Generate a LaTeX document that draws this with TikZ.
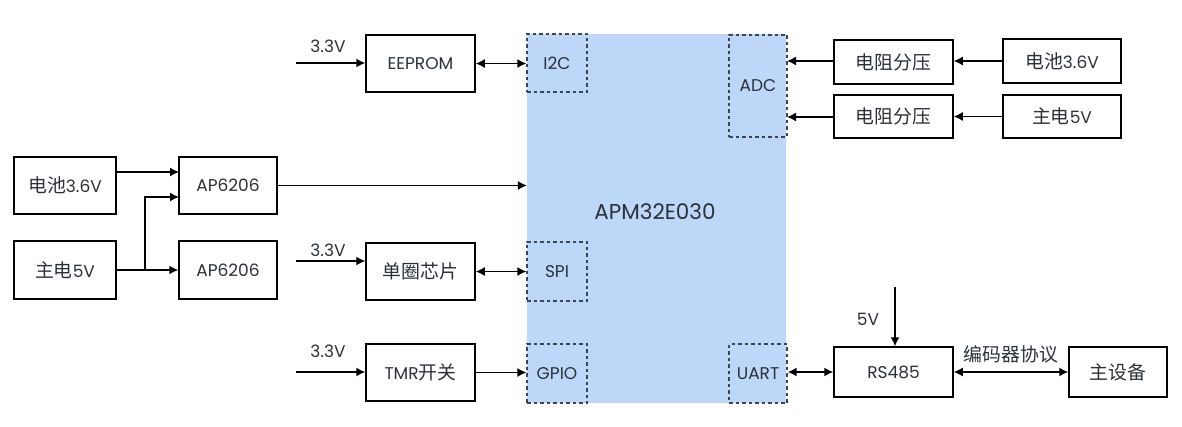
\documentclass[tikz,border=0pt]{standalone}
\usepackage{fontspec}
\setmainfont{Poppins}
\newfontfamily\cjk[Scale=1.11]{Noto Sans CJK SC}
\usetikzlibrary{positioning, arrows.meta}
\definecolor{chipblue}{HTML}{BDD7F9}
\definecolor{txtgray}{HTML}{2B3138}
\definecolor{portgray}{HTML}{3A4652}
\tikzset{
every node/.style={text=txtgray, font=\fontsize{17}{19}\selectfont},
blockbox/.style={draw=black, line width=1.5pt, fill=white, inner sep=0pt, minimum width=#1, minimum height=57pt},
port/.style={draw=portgray, line width=1.3pt, dash pattern=on 3.5pt off 3pt, inner sep=0pt, minimum width=#1},
link/.style={draw=black, line width=1.4pt, -{Latex[length=9pt,width=9pt]}},
duplex/.style={draw=black, line width=1.4pt, {Latex[length=9pt,width=9pt]}-{Latex[length=9pt,width=9pt]}},
}

\begin{document}
\begin{tikzpicture}[x=1pt, y=-1pt]
    \useasboundingbox (0,0) rectangle (1182,427);

    %chip
    \node[fill=chipblue, inner sep=0pt, minimum width=259pt, minimum height=369pt] (chip) at (656.5,218.5) { };
    \node[font=\fontsize{21.5}{24}\selectfont] (chiplabel) at (655,212) {APM32E030};
    \node[port=60pt, minimum height=58pt] (i2c) at (557,63) {I2C};
    \node[port=60pt, minimum height=59pt] (spi) at (557,271.5) {SPI};
    \node[port=60pt, minimum height=59pt] (gpio) at (557,373.5) {GPIO};
    \node[port=58pt, minimum height=102pt] (adc) at (758,86) {ADC};
    \node[port=58pt, minimum height=59pt] (uart) at (758,373.5) {UART};

    %left column
    \node[blockbox=102pt] (batL) at (65,185.5) {\cjk 电池\normalfont 3.6V};
    \node[blockbox=102pt, minimum height=58pt] (mainL) at (65,270) {\cjk 主电\normalfont 5V};
    \node[blockbox=98pt] (ap1) at (228,185.5) {AP6206};
    \node[blockbox=98pt, minimum height=58pt] (ap2) at (228,270) {AP6206};

    %middle column
    \node[blockbox=109pt] (eeprom) at (420.5,63.5) {EEPROM};
    \node[blockbox=109pt] (coil) at (420.5,271.5) {\cjk 单圈芯片};
    \node[blockbox=109pt] (tmr) at (420.5,372.5) {TMR\cjk 开关};

    %right side
    \node[blockbox=119pt, minimum height=44pt] (div1) at (893.5,62) {\cjk 电阻分压};
    \node[blockbox=119pt, minimum height=43pt] (div2) at (893.5,116.5) {\cjk 电阻分压};
    \node[blockbox=118pt, minimum height=44pt] (batR) at (1062,61) {\cjk 电池\normalfont 3.6V};
    \node[blockbox=118pt, minimum height=43pt] (mainR) at (1062,116.5) {\cjk 主电\normalfont 5V};
    \node[blockbox=119pt, minimum height=50pt] (rs485) at (893.5,372) {RS485};
    \node[blockbox=98pt, minimum height=50pt] (host) at (1118,372) {\cjk 主设备};

    %free ends
    \coordinate (in1) at (296,63);
    \coordinate (in2) at (296,261);
    \coordinate (in3) at (296,372);
    \coordinate (in5) at (895,287);
    \coordinate (apA) at (179,172);
    \coordinate (apB) at (179,197);
    \coordinate (tap) at (145,270);
    \coordinate (adcA) at (787,61);
    \coordinate (adcB) at (787,117);

    %labels
    \node (v1) at (328,46) {3.3V};
    \node (v2) at (328,250) {3.3V};
    \node (v3) at (328,351) {3.3V};
    \node (v5) at (868,319) {5V};
    \node (proto) at (1011,354) {\cjk 编码器协议};

    %power
    \draw[link] (batL.east |- apA)--(apA);
    \draw[link] (mainL.east)--(ap2.west);
    \draw[link] (tap)--(tap |- apB)--(apB);
    \draw[link] (ap1.east)--(ap1.east -| chip.west);

    %3.3V inputs
    \draw[link] (in1)--(in1 -| eeprom.west);
    \draw[link] (in2)--(in2 -| coil.west);
    \draw[link] (in3)--(in3 -| tmr.west);
    \draw[link] (in5)--(in5 |- rs485.north);

    %buses
    \draw[duplex] (eeprom.east)--(eeprom.east -| i2c.west);
    \draw[duplex] (coil.east)--(coil.east -| spi.west);
    \draw[link] (tmr.east)--(tmr.east -| gpio.west);
    \draw[duplex] (uart.east |- rs485.west)--(rs485.west);
    \draw[duplex] (rs485.east)--(host.west);

    %adc inputs
    \draw[link] (div1.west |- adcA)--(adcA);
    \draw[link] (div2.west |- adcB)--(adcB);
    \draw[link] (batR.west)--(batR.west -| div1.east);
    \draw[link] (mainR.west)--(div2.east);
\end{tikzpicture}
\end{document}
